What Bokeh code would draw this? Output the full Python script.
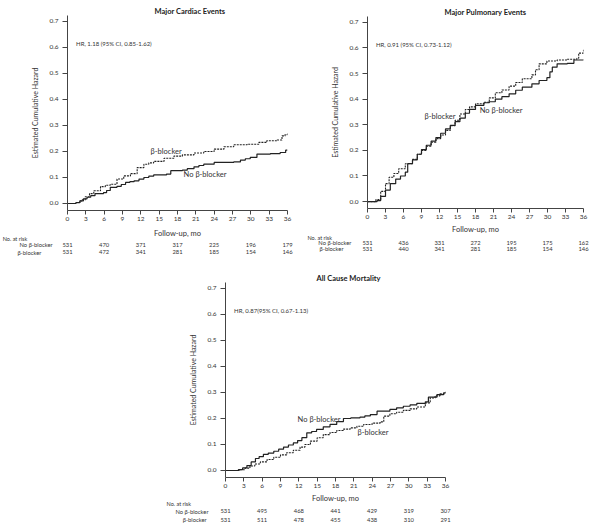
from bokeh.plotting import figure
from bokeh.layouts import column, row
from bokeh.models import FixedTicker, PrintfTickFormatter, Label, Range1d, Spacer
from bokeh.core.properties import value
from bokeh.embed import file_html
from bokeh.resources import INLINE

FONT = "Lato"
TXT = "#333333"

# ---------------- data ----------------
month_ticks = list(range(0, 37, 3))
hazard_ticks = [0.0, 0.1, 0.2, 0.3, 0.4, 0.5, 0.6, 0.7]
risk_months = [0, 6, 12, 18, 24, 30, 36]

# Major Cardiac Events
cardiac_no_t = [0, 1.4, 2.0, 2.6, 3.2, 3.8, 4.5, 5.9, 6.4, 7.0, 8.1, 8.8, 9.5, 10.2, 10.9, 11.7, 12.5, 13.3,
                14.1, 16.2, 16.9, 18.8, 19.6, 20.7, 21.5, 22.3, 24.0, 27.2, 28.3, 29.1, 29.9, 31.0, 33.2, 34.8, 35.7, 36]
cardiac_no_v = [0, 0.003, 0.01, 0.018, 0.024, 0.03, 0.038, 0.042, 0.05, 0.062, 0.066, 0.073, 0.081, 0.084, 0.087,
                0.094, 0.10, 0.105, 0.11, 0.113, 0.126, 0.128, 0.134, 0.141, 0.146, 0.151, 0.158, 0.16, 0.167, 0.172,
                0.177, 0.19, 0.192, 0.196, 0.205, 0.205]
cardiac_bb_t = [0, 1.4, 2.2, 2.9, 3.6, 4.3, 5.4, 6.2, 7.0, 8.1, 9.2, 10.3, 11.4, 12.5, 13.3, 14.1, 15.8, 17.4, 18.8,
                20.7, 22.3, 24.0, 25.6, 27.2, 29.4, 31.3, 32.6, 34.3, 35.1, 35.6, 36]
cardiac_bb_v = [0, 0.004, 0.014, 0.026, 0.038, 0.049, 0.065, 0.07, 0.074, 0.094, 0.106, 0.115, 0.138, 0.151, 0.156,
                0.162, 0.174, 0.182, 0.187, 0.194, 0.2, 0.209, 0.218, 0.226, 0.228, 0.235, 0.241, 0.244, 0.26, 0.265,
                0.27]
cardiac_no_risk = [531, 470, 371, 317, 225, 196, 179]
cardiac_bb_risk = [531, 472, 341, 281, 185, 154, 146]

# Major Pulmonary Events
pulm_no_t = [0, 1.6, 2.2, 3.0, 3.8, 4.7, 5.5, 6.3, 6.7, 7.5, 8.3, 9.0, 9.8, 10.6, 11.4, 12.2, 13.0, 13.8, 14.6, 15.4,
             16.3, 17.0, 18.0, 19.4, 20.3, 21.3, 22.4, 23.6, 24.7, 25.8, 27.4, 28.6, 29.9, 30.4, 30.8, 31.6, 33.3, 34.4,
             36]
pulm_no_v = [0, 0.004, 0.02, 0.045, 0.07, 0.088, 0.10, 0.115, 0.148, 0.163, 0.185, 0.203, 0.22, 0.236, 0.25, 0.267,
             0.284, 0.298, 0.312, 0.326, 0.345, 0.36, 0.376, 0.386, 0.39, 0.40, 0.41, 0.421, 0.435, 0.447, 0.46, 0.473,
             0.484, 0.507, 0.525, 0.538, 0.54, 0.553, 0.555]
pulm_bb_t = [0, 1.4, 2.2, 3.0, 3.6, 4.4, 5.2, 6.3, 7.5, 8.3, 9.0, 9.8, 10.6, 11.4, 12.2, 13.0, 13.8, 14.6, 15.4, 16.3,
             17.0, 18.0, 19.4, 20.3, 21.3, 22.4, 23.6, 24.7, 25.8, 27.4, 28.0, 28.6, 29.9, 31.6, 33.3, 34.9, 35.2, 36]
pulm_bb_v = [0, 0.008, 0.04, 0.07, 0.095, 0.11, 0.128, 0.148, 0.165, 0.185, 0.2, 0.216, 0.232, 0.246, 0.26, 0.278,
             0.296, 0.318, 0.342, 0.36, 0.37, 0.382, 0.388, 0.405, 0.425, 0.436, 0.451, 0.465, 0.48, 0.495, 0.515,
             0.538, 0.549, 0.553, 0.556, 0.56, 0.58, 0.593]
pulm_no_risk = [531, 436, 331, 272, 195, 175, 162]
pulm_bb_risk = [531, 440, 341, 281, 185, 154, 146]

# All Cause Mortality
mort_no_t = [0, 2.1, 2.8, 3.5, 4.2, 4.9, 5.5, 6.2, 7.0, 7.9, 8.7, 9.5, 10.3, 11.1, 11.8, 12.5, 13.3, 14.1, 14.9, 16.0,
             17.1, 18.2, 19.3, 20.5, 22.0, 22.8, 23.7, 24.8, 26.9, 28.0, 29.1, 30.2, 31.3, 32.7, 33.2, 34.6, 35.7, 36]
mort_no_v = [0, 0.003, 0.01, 0.019, 0.033, 0.046, 0.053, 0.062, 0.067, 0.074, 0.082, 0.09, 0.098, 0.106, 0.115,
             0.126, 0.145, 0.15, 0.158, 0.168, 0.177, 0.188, 0.2, 0.202, 0.205, 0.21, 0.215, 0.228, 0.235, 0.241,
             0.247, 0.252, 0.258, 0.264, 0.282, 0.292, 0.299, 0.30]
mort_bb_t = [0, 2.4, 3.2, 4.0, 4.8, 5.7, 6.8, 7.9, 9.0, 10.0, 11.1, 12.2, 13.0, 13.9, 15.0, 16.0, 17.1, 18.2, 19.3,
             20.4, 21.5, 22.6, 24.0, 25.3, 25.9, 26.9, 28.0, 29.1, 30.2, 31.3, 32.7, 33.5, 34.3, 35.1, 36]
mort_bb_v = [0, 0.003, 0.009, 0.017, 0.025, 0.033, 0.042, 0.051, 0.06, 0.068, 0.078, 0.09, 0.1, 0.113, 0.126, 0.138,
             0.146, 0.154, 0.159, 0.164, 0.17, 0.177, 0.182, 0.187, 0.209, 0.218, 0.224, 0.231, 0.237, 0.244, 0.26,
             0.279, 0.287, 0.295, 0.303]
mort_no_risk = [531, 495, 468, 441, 429, 319, 307]
mort_bb_risk = [531, 511, 478, 455, 438, 310, 291]

titles = ["Major Cardiac Events", "Major Pulmonary Events", "All Cause Mortality"]
hr_texts = ["HR, 1.18 (95% CI, 0.85-1.62)", "HR, 0.91 (95% CI, 0.73-1.12)", "HR, 0.87(95% CI, 0.67-1.13)"]
group_names = ["No \u03b2-blocker", "\u03b2-blocker"]
x_label = "Follow-up, mo"
risk_header = "No. at risk"


def label(p, x, y, text, size="7px", align="left", color=TXT):
    p.add_layout(Label(x=x, y=y, text=text, text_font=FONT, text_font_size=size, text_align=align,
                       text_baseline="middle", text_color=color))


def main_fig(idx, t_no, v_no, t_bb, v_bb, bb_lab, no_lab, width, height, bl, br, bt, bb, title_off):
    p = figure(width=width, height=height, output_backend="svg", toolbar_location=None,
               x_range=Range1d(0, 36), y_range=Range1d(-0.027, 0.723), frame_align=False,
               min_border_left=bl, min_border_right=br, min_border_top=bt, min_border_bottom=bb)
    p.outline_line_color = None
    p.xgrid.visible = False
    p.ygrid.visible = False

    p.title.text = titles[idx]
    p.title.align = "left"
    p.title.offset = title_off
    p.title.standoff = 0
    p.title.text_font = FONT
    p.title.text_font_size = "7.5px"
    p.title.text_font_style = "bold"
    p.title.text_color = "#222222"

    p.step(t_no, v_no, mode="after", line_color="#222222", line_width=1.2)
    p.step(t_bb, v_bb, mode="after", line_color="#222222", line_width=1.1, line_dash="2 1")

    for ax in (p.xaxis[0], p.yaxis[0]):
        ax.axis_line_color = "#444444"
        ax.major_tick_line_color = "#444444"
        ax.minor_tick_line_color = None
        ax.major_tick_in = 0
        ax.major_label_text_font = FONT
        ax.major_label_text_font_size = "6.5px"
        ax.major_label_text_color = TXT

    p.xaxis.ticker = FixedTicker(ticks=month_ticks)
    p.xaxis.major_tick_out = 4
    p.xaxis.major_label_standoff = 2

    p.yaxis.ticker = FixedTicker(ticks=hazard_ticks)
    p.yaxis.formatter = PrintfTickFormatter(format="%.1f")
    p.yaxis.major_tick_out = 5
    p.yaxis.major_label_standoff = 4
    p.yaxis.axis_label = "Estimated Cumulative Hazard"
    p.yaxis.axis_label_text_font = FONT
    p.yaxis.axis_label_text_font_style = "normal"
    p.yaxis.axis_label_text_color = TXT
    p.yaxis.axis_label_text_font_size = "7px"
    p.yaxis.axis_label_standoff = 7

    label(p, 1.4, 0.615, hr_texts[idx], size="6px")
    label(p, bb_lab[0], bb_lab[1], group_names[1], size="7.5px")
    label(p, no_lab[0], no_lab[1], group_names[0], size="7.5px")
    return p


def table_fig(risk_no, risk_bb, width, height, bl, br, frame_w, rows_y, head_x):
    ppm = frame_w / 36.0
    t = figure(width=width, height=height, output_backend="svg", toolbar_location=None,
               x_range=Range1d(-bl / ppm, 36 + br / ppm), y_range=Range1d(height, 0),
               x_axis_type=None, y_axis_type=None, min_border=0, frame_align=False)
    t.outline_line_color = None
    t.grid.visible = False
    common = dict(text_font=value(FONT), text_color=TXT, text_baseline="middle")
    t.text(x=[18], y=[rows_y[0]], text=[x_label], text_align="center",
           text_font_size=value("7.5px"), **common)
    t.text(x=[head_x[0]], y=[rows_y[1]], text=[risk_header], text_align="left",
           text_font_size=value("5.5px"), **common)
    t.text(x=[head_x[1], head_x[2]], y=[rows_y[2], rows_y[3]], text=group_names, text_align="left",
           text_font_size=value("5.8px"), **common)
    t.text(x=risk_months, y=[rows_y[2]] * len(risk_months), text=[str(n) for n in risk_no],
           text_align="center", text_font_size=value("5.8px"), **common)
    t.text(x=risk_months, y=[rows_y[3]] * len(risk_months), text=[str(n) for n in risk_bb],
           text_align="center", text_font_size=value("5.8px"), **common)
    return t


p1 = main_fig(0, cardiac_no_t, cardiac_no_v, cardiac_bb_t, cardiac_bb_v, (13.6, 0.20), (19.0, 0.113),
              width=300, height=227, bl=67, br=13, bt=15, bb=17, title_off=87)
t1 = table_fig(cardiac_no_risk, cardiac_bb_risk, width=300, height=31, bl=67, br=13, frame_w=220,
               rows_y=(6.3, 11.3, 17.3, 24.7), head_x=(-10.6, -7.85, -8.2))

p2 = main_fig(1, pulm_no_t, pulm_no_v, pulm_bb_t, pulm_bb_v, (9.5, 0.332), (18.7, 0.355),
              width=298, height=224, bl=67, br=15, bt=16, bb=16, title_off=77)
t2 = table_fig(pulm_no_risk, pulm_bb_risk, width=298, height=34, bl=67, br=15, frame_w=216,
               rows_y=(5.0, 13.3, 18.3, 24.3), head_x=(-10.0, -8.2, -8.0))

p3 = main_fig(2, mort_no_t, mort_no_v, mort_bb_t, mort_bb_v, (21.6, 0.148), (11.8, 0.198),
              width=310, height=234, bl=75, br=15, bt=24, bb=15, title_off=91)
t3 = table_fig(mort_no_risk, mort_bb_risk, width=310, height=35, bl=75, br=15, frame_w=220,
               rows_y=(6.3, 11.3, 18.7, 27.3), head_x=(-9.65, -8.2, -7.0))

layout = column(row(column(p1, t1), column(p2, t2)),
                row(Spacer(width=150, height=269), column(p3, t3)))

open("out.html", "w").write(file_html(layout, INLINE))
